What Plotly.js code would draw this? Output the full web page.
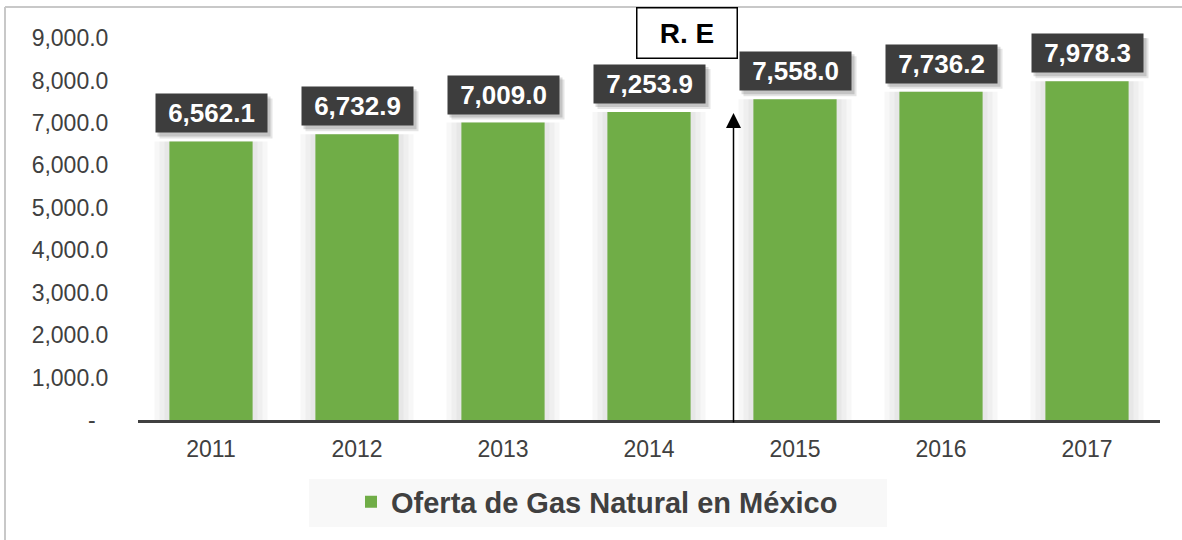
<!DOCTYPE html>
<html>
<head>
<meta charset="utf-8">
<script src="https://cdn.plot.ly/plotly-3.0.1.min.js"></script>
<style>html,body{margin:0;padding:0;background:#fff;}#chart{width:1182px;height:540px;}</style>
</head>
<body>
<div id="chart"></div>
<script>
// ---- data ----
const years = ['2011', '2012', '2013', '2014', '2015', '2016', '2017'];
const oferta = [6562.1, 6732.9, 7009.0, 7253.9, 7558.0, 7736.2, 7978.3];
const seriesName = 'Oferta de Gas Natural en México';
const yTickVals = [0, 1000, 2000, 3000, 4000, 5000, 6000, 7000, 8000, 9000];
const yTickText = ['-\u00a0\u00a0', '1,000.0', '2,000.0', '3,000.0', '4,000.0', '5,000.0', '6,000.0', '7,000.0', '8,000.0', '9,000.0'];
const markerText = 'R. E';

// ---- layout constants ----
const W = 1182, H = 540;
const M = {l: 138, r: 22, t: 38, b: 120};
const PW = W - M.l - M.r, PH = H - M.t - M.b;
const px = x => (x - M.l) / PW;            // pixel x -> paper x
const py = y => (H - M.b - y) / PH;        // pixel y -> paper y
const FONT = 'Liberation Sans, Arial, sans-serif';
const GREEN = '#70ad47';
const DARK = '#404040';
const barW = 0.57;
const catPx = PW / years.length;
const LBL_W = 113, LBL_H = 40, LBL_GAP = 8;

const fmt = v => v.toLocaleString('en-US', {minimumFractionDigits: 1, maximumFractionDigits: 1});

const traces = [];
// soft glow around bars
[15, 10, 5].forEach(g => {
  traces.push({
    type: 'bar', x: years, y: oferta, width: barW + 2 * g / catPx,
    marker: {color: 'rgba(0,0,0,0.03)'}, hoverinfo: 'skip', showlegend: false
  });
});
traces.push({
  type: 'bar', x: years, y: oferta, name: seriesName, width: barW,
  marker: {color: GREEN}, showlegend: true
});

const shapes = [
  // outer frame (top + left)
  {type: 'line', xref: 'paper', yref: 'paper', x0: px(5), x1: px(W + 5), y0: py(7), y1: py(7),
   line: {color: '#c8c8c8', width: 2}, layer: 'below'},
  {type: 'line', xref: 'paper', yref: 'paper', x0: px(5), x1: px(5), y0: py(7), y1: py(H + 5),
   line: {color: '#c8c8c8', width: 2}, layer: 'below'},
  // legend background
  {type: 'rect', xref: 'paper', yref: 'paper', x0: px(309), x1: px(887), y0: py(527), y1: py(479),
   fillcolor: '#f8f8f8', line: {width: 0}, layer: 'below'}
];

const annotations = [];
years.forEach((yr, i) => {
  // soft drop shadow of label box (anchored to the bar top, sized in pixels)
  [[5, 0.10], [3, 0.14]].forEach(([o, a]) => {
    shapes.push({
      type: 'rect', xref: 'x', yref: 'y', layer: 'above',
      xsizemode: 'pixel', ysizemode: 'pixel', xanchor: i, yanchor: oferta[i],
      x0: -LBL_W / 2 + o, x1: LBL_W / 2 + o, y0: LBL_GAP - o, y1: LBL_GAP + LBL_H - o,
      fillcolor: 'rgba(0,0,0,' + a + ')', line: {width: 0}
    });
  });
  annotations.push({
    x: i, y: oferta[i], xref: 'x', yref: 'y', yanchor: 'bottom', xanchor: 'center',
    showarrow: false, text: '<b>' + fmt(oferta[i]) + '</b>', yshift: LBL_GAP,
    font: {family: FONT, size: 26, color: '#ffffff'},
    bgcolor: '#3d3d3d', borderpad: 4, width: LBL_W - 10, height: LBL_H - 10
  });
});
// R. E box
annotations.push({
  xref: 'paper', yref: 'paper', x: px(687), y: py(33), xanchor: 'center', yanchor: 'middle',
  showarrow: false, text: '<b>' + markerText + '</b>',
  font: {family: FONT, size: 28, color: '#000'},
  bgcolor: '#fff', bordercolor: '#000', borderwidth: 1.5, borderpad: 0, width: 99, height: 49
});
// vertical arrow
annotations.push({
  xref: 'paper', yref: 'paper', x: px(733.5), y: py(113), text: '',
  showarrow: true, ax: 0, ay: 311, axref: 'pixel', ayref: 'pixel',
  arrowhead: 2, arrowsize: 2, arrowwidth: 1.5, arrowcolor: '#000', standoff: 0
});

const layout = {
  width: W, height: H,
  margin: M,
  paper_bgcolor: '#fff', plot_bgcolor: 'rgba(0,0,0,0)',
  barmode: 'overlay',
  font: {family: FONT, color: DARK},
  xaxis: {
    type: 'category', showline: true, linecolor: DARK, linewidth: 3,
    ticks: 'outside', ticklen: 6, tickcolor: 'rgba(0,0,0,0)',
    tickfont: {family: FONT, size: 23, color: DARK}, showgrid: false, zeroline: false,
    fixedrange: true
  },
  yaxis: {
    range: [0, 9000], tickvals: yTickVals, ticktext: yTickText,
    ticks: 'outside', ticklen: 24, tickcolor: 'rgba(0,0,0,0)',
    tickfont: {family: FONT, size: 23, color: DARK}, showgrid: false, zeroline: false,
    showline: false, fixedrange: true
  },
  showlegend: true,
  legend: {
    orientation: 'h', xref: 'container', yref: 'container',
    x: 351 / W, y: (H - 502) / H, xanchor: 'left', yanchor: 'middle',
    bgcolor: 'rgba(0,0,0,0)', font: {family: FONT, size: 29, color: DARK, weight: 'bold'},
    itemwidth: 30
  },
  annotations: annotations,
  shapes: shapes
};

Plotly.newPlot('chart', traces, layout, {displayModeBar: false, staticPlot: true});
</script>
</body>
</html>
